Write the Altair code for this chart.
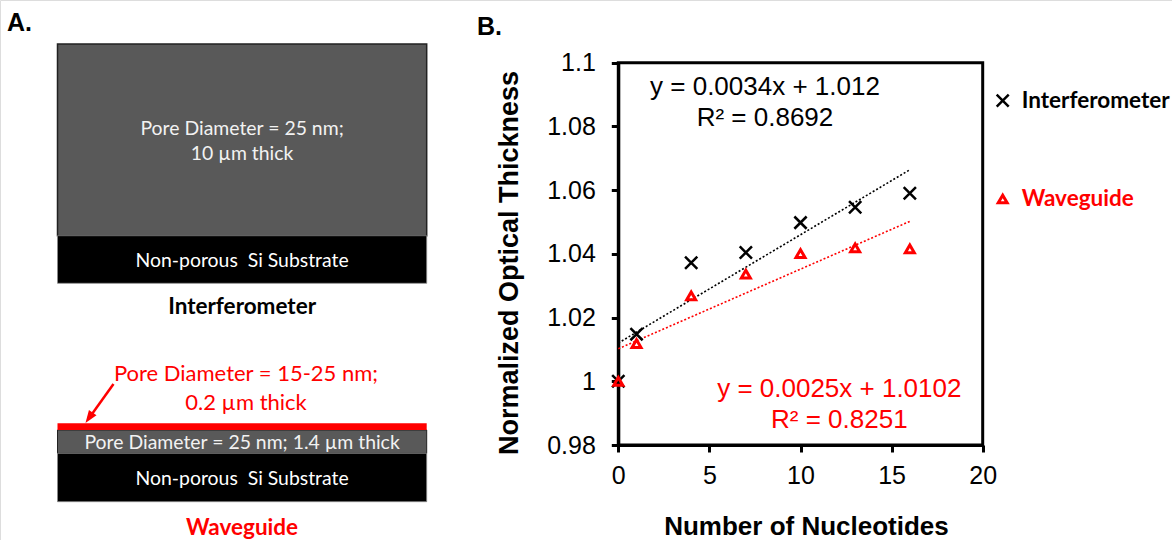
import altair as alt
import pandas as pd

# ---------------------------------------------------------------------------
# Panel B data: normalized optical thickness vs. number of nucleotides
# ---------------------------------------------------------------------------
nucleotides = [0, 1, 4, 7, 10, 13, 16]
interferometer = [1.000, 1.0148, 1.0372, 1.0404, 1.0498, 1.0546, 1.0590]
waveguide = [1.000, 1.0118, 1.0268, 1.0336, 1.0401, 1.0419, 1.0416]

# Linear trendline (slope, intercept, R^2) for each sensor
fit_interferometer = (0.0034, 1.012, 0.8692)
fit_waveguide = (0.0025, 1.0102, 0.8251)
fit_x_range = [0, 16]

x_ticks = [0, 5, 10, 15, 20]
y_ticks = [0.98, 1.0, 1.02, 1.04, 1.06, 1.08, 1.1]
x_domain = [0, 20]
y_domain = [0.98, 1.1]

# ---------------------------------------------------------------------------
# Page geometry
# ---------------------------------------------------------------------------
W, H = 1172, 540
PLOT_L, PLOT_R = 618.3, 982.7
PLOT_T, PLOT_B = 62.7, 445.0

ARIAL = "Liberation Sans"
SANS = "Lato"
RED = "#ff0000"
X_PATH = "M-1,-1L1,1M-1,1L1,-1"


def one_row():
    return alt.Data(values=[{"k": 0}])


def block(x0, x1, y0, y1, fill, stroke=None, sw=1.0):
    kw = dict(fill=fill)
    if stroke is not None:
        kw.update(stroke=stroke, strokeWidth=sw)
    else:
        kw.update(strokeWidth=0)
    return alt.Chart(one_row()).mark_rect(**kw).encode(
        x=alt.value(x0), x2=alt.value(x1), y=alt.value(y0), y2=alt.value(y1)
    )


def label(text, x, y, size, color, font=SANS, weight="normal",
          align="center", baseline="middle"):
    return alt.Chart(one_row()).mark_text(
        text=text, font=font, fontSize=size, fontWeight=weight, color=color,
        align=align, baseline=baseline,
    ).encode(x=alt.value(x), y=alt.value(y))


# ---------------------------------------------------------------------------
# Panel A: layer stacks of the two sensors
# ---------------------------------------------------------------------------
BOX_L, BOX_R = 57.5, 426.7
CX = (BOX_L + BOX_R) / 2
GRAY = "#595959"
LIGHT = "#f2f2f2"

panel_a = [
    label("A.", 7, 31, 25, "black", font=ARIAL, weight="bold", align="left",
          baseline="alphabetic"),
    # interferometer stack
    block(BOX_L, BOX_R, 44, 235.7, GRAY, stroke="#222222", sw=1.5),
    block(BOX_L, BOX_R, 235.7, 283.3, "black", stroke="#8a8a8a", sw=0.8),
    label("Pore Diameter = 25 nm;", CX, 128.5, 19.4, LIGHT),
    label("10 µm thick", CX, 154, 19.4, LIGHT),
    label("Non-porous\u00a0 Si Substrate", CX, 260.7, 19.4, "white"),
    label("Interferometer", CX, 306.5, 22.5, "black", weight="bold"),
    # waveguide stack
    label("Pore Diameter = 15-25 nm;", 246, 374.4, 22, RED),
    label("0.2 µm thick", 246, 403, 22, RED),
    block(BOX_L, BOX_R, 430, 453.3, GRAY, stroke="#222222", sw=1.0),
    block(BOX_L, BOX_R, 423.3, 430, RED),
    block(BOX_L, BOX_R, 453.3, 501.7, "black", stroke="#8a8a8a", sw=0.8),
    label("Pore Diameter = 25 nm; 1.4 µm thick", CX, 442.6, 19.4, LIGHT),
    label("Non-porous\u00a0 Si Substrate", CX, 478.7, 19.4, "white"),
    label("Waveguide", CX, 528.2, 22.5, RED, weight="bold"),
    # arrow pointing at the thin top layer
    alt.Chart(one_row()).mark_rule(color=RED, strokeWidth=2.5).encode(
        x=alt.value(113.5), y=alt.value(384), x2=alt.value(89.5), y2=alt.value(417.5)
    ),
    alt.Chart(one_row()).mark_point(
        shape="M0,-1L-0.65,0.8L0.65,0.8Z", filled=True, color=RED, opacity=1,
        size=200, angle=214.7,
    ).encode(x=alt.value(89.5), y=alt.value(417.2)),
]

# ---------------------------------------------------------------------------
# Panel B: scatter with linear trendlines
# ---------------------------------------------------------------------------
x_scale = alt.Scale(domain=x_domain, range=[PLOT_L, PLOT_R], nice=False, zero=False)
y_scale = alt.Scale(domain=y_domain, range=[PLOT_B, PLOT_T], nice=False, zero=False)

x_axis = alt.Axis(
    orient="bottom", offset=-(H - PLOT_B), values=x_ticks, grid=False,
    domainColor="black", domainWidth=3, tickColor="black", tickWidth=3, tickSize=7,
    labelFont=ARIAL, labelFontSize=25, labelColor="black", labelPadding=31,
    labelBaseline="alphabetic", labelFlush=False,
    title="Number of Nucleotides", titleFont=ARIAL, titleFontSize=26,
    titleFontWeight="bold", titleColor="black", titleX=806, titleY=89.5,
    titleBaseline="alphabetic", titleAlign="center",
)
y_axis = alt.Axis(
    orient="left", offset=-PLOT_L, values=y_ticks, format="~g", grid=False,
    domainColor="black", domainWidth=3, tickColor="black", tickWidth=3, tickSize=7,
    labelFont=ARIAL, labelFontSize=25, labelColor="black", labelPadding=16,
    labelFlush=False,
    title="Normalized Optical Thickness", titleFont=ARIAL, titleFontSize=27,
    titleFontWeight="bold", titleColor="black", titleAngle=270,
    titleX=-(PLOT_L - 517.5), titleY=262.5, titleBaseline="alphabetic",
    titleAlign="center",
)


def enc_xy(chart):
    return chart.encode(
        x=alt.X("n:Q", scale=x_scale, axis=x_axis),
        y=alt.Y("v:Q", scale=y_scale, axis=y_axis),
    )


frame_df = pd.DataFrame({"n": [x_domain[0]], "n2": [x_domain[1]],
                         "v": [y_domain[0]], "v2": [y_domain[1]]})
frame = alt.Chart(frame_df).mark_rect(
    fillOpacity=0, stroke="black", strokeWidth=3
).encode(
    x=alt.X("n:Q", scale=x_scale, axis=x_axis), x2="n2:Q",
    y=alt.Y("v:Q", scale=y_scale, axis=y_axis), y2="v2:Q",
)


def trend_df(fit):
    slope, intercept, _ = fit
    return pd.DataFrame({"n": fit_x_range,
                         "v": [intercept + slope * x for x in fit_x_range]})


trend_i = enc_xy(alt.Chart(trend_df(fit_interferometer)).mark_line(
    color="black", strokeWidth=1.6, strokeDash=[2, 2]))
trend_w = enc_xy(alt.Chart(trend_df(fit_waveguide)).mark_line(
    color=RED, strokeWidth=1.6, strokeDash=[2, 2]))

df_i = pd.DataFrame({"n": nucleotides, "v": interferometer})
df_w = pd.DataFrame({"n": nucleotides, "v": waveguide})

pts_i = enc_xy(alt.Chart(df_i).mark_point(
    shape=X_PATH, size=150, filled=False, color="black", strokeWidth=2.5, opacity=1))
pts_w = enc_xy(alt.Chart(df_w).mark_point(
    shape="triangle-up", size=80, filled=False, color=RED, strokeWidth=3, opacity=1))


def eq_rows(fit, x, y_top, y_bot, color):
    slope, intercept, r2 = fit
    return [
        {"n": x, "v": y_top, "t": f"y = {slope}x + {intercept}", "c": color},
        {"n": x, "v": y_bot, "t": f"R\u00b2 = {r2}", "c": color},
    ]


eq_df = pd.DataFrame(
    eq_rows(fit_interferometer, 8.05, 1.0923, 1.0825, "black")
    + eq_rows(fit_waveguide, 12.13, 0.9975, 0.9879, RED)
)
equations = enc_xy(alt.Chart(eq_df).mark_text(
    font=ARIAL, fontSize=26, align="center", baseline="middle"
)).encode(text="t:N", color=alt.Color("c:N", scale=None))

panel_b = [
    label("B.", 477, 35, 25, "black", font=ARIAL, weight="bold", align="left",
          baseline="alphabetic"),
    frame, trend_i, trend_w, pts_i, pts_w, equations,
]

# legend at the right of the plot
legend = [
    alt.Chart(one_row()).mark_point(
        shape=X_PATH, size=144, filled=False, color="black", strokeWidth=2.5, opacity=1
    ).encode(x=alt.value(1002.7), y=alt.value(100.7)),
    label("Interferometer", 1021.7, 108.3, 22.5, "black", weight="bold",
          align="left", baseline="alphabetic"),
    alt.Chart(one_row()).mark_point(
        shape="triangle-up", size=80, filled=False, color=RED, strokeWidth=3, opacity=1
    ).encode(x=alt.value(1002.7), y=alt.value(199)),
    label("Waveguide", 1021.7, 206, 22.5, RED, weight="bold",
          align="left", baseline="alphabetic"),
]

chart = alt.layer(*panel_a, *panel_b, *legend).properties(
    width=W, height=H, padding=0,
    autosize=alt.AutoSizeParams(type="none"),
).configure_view(stroke=None).configure(background="white")

chart.save("out.html", embed_options={"renderer": "svg", "actions": False})
